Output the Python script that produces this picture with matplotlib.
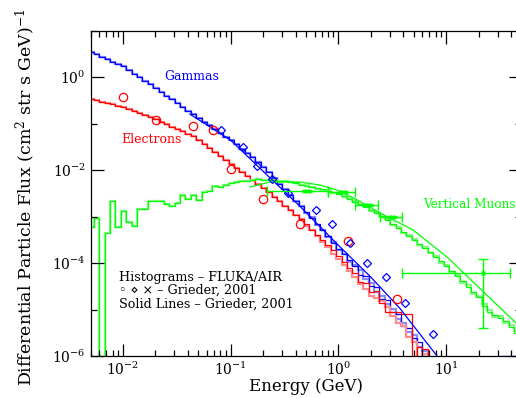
import numpy as np
import matplotlib.pyplot as plt
from matplotlib.ticker import FixedLocator, LogLocator, NullFormatter

plt.rcParams['font.family'] = ['DejaVu Serif', 'DejaVu Sans']
plt.rcParams['mathtext.fontset'] = 'dejavuserif'

# histogram binning: 20 log bins per decade
log_e_lo = -2.32
bin_width = 0.05

# FLUKA/AIR histograms, log10 of flux per bin
gamma_log = [0.535, 0.484, 0.434, 0.383, 0.333, 0.282, 0.230, 0.153, 0.073, -0.006,
             -0.084, -0.161, -0.241, -0.318, -0.400, -0.482, -0.561, -0.643, -0.725, -0.802,
             -0.882, -0.961, -1.041, -1.120, -1.200, -1.280, -1.359, -1.449, -1.542, -1.634,
             -1.727, -1.819, -1.927, -2.047, -2.170, -2.292, -2.413, -2.535, -2.658, -2.783,
             -2.91, -3.04, -3.17, -3.30, -3.43, -3.56, -3.69, -3.81, -3.94, -4.07,
             -4.25, -4.28, -4.50, -4.52, -4.78, -4.80, -5.05, -5.10, -5.35, -5.40,
             -5.62, -5.70, -5.95, -6.3, -7, -7, -7, -7, -7, -7,
             -7, -7, -7, -7, -7, -7, -5.99, -5.99, -5.99, -5.99]
gamma_log_run2 = [-2.93, -3.02, -3.19, -3.28, -3.45, -3.55, -3.72, -3.80, -3.98, -4.05,
                  -4.15, -4.35, -4.42, -4.62, -4.70, -4.88, -4.98, -5.20, -5.28, -5.48,
                  -5.55, -5.80, -5.90, -6.3]

electron_log = [-0.473, -0.503, -0.533, -0.561, -0.589, -0.619, -0.649, -0.692, -0.735, -0.781,
                -0.824, -0.867, -0.912, -0.963, -1.015, -1.067, -1.118, -1.170, -1.224, -1.277,
                -1.361, -1.447, -1.533, -1.619, -1.705, -1.789, -1.873, -1.959, -2.043, -2.127,
                -2.211, -2.295, -2.387, -2.480, -2.576, -2.673, -2.768, -2.865, -2.959, -3.060,
                -3.17, -3.28, -3.40, -3.51, -3.62, -3.73, -3.86, -3.98, -4.10, -4.22,
                -4.40, -4.42, -4.62, -4.60, -4.85, -5.05, -5.05, -5.05, -5.10, -5.10,
                -6.5, -5.80, -5.85, -6.5]
electron_log_run2 = [-3.20, -3.30, -3.43, -3.55, -3.66, -3.80, -3.92, -4.05, -4.18, -4.30,
                     -4.45, -4.55, -4.70, -4.75, -4.82, -4.95, -5.15, -5.30, -5.35, -5.60,
                     -5.70, -6.5, -5.95, -6.5]

muon_log = [-3.23, -3.04, -9.0, -3.35, -2.66, -3.23, -2.88, -3.12, -3.20, -2.84,
            -2.84, -2.66, -2.66, -2.66, -2.73, -2.77, -2.72, -2.54, -2.63, -2.54,
            -2.65, -2.47, -2.45, -2.34, -2.37, -2.32, -2.27, -2.26, -2.24, -2.24,
            -2.22, -2.19, -2.22, -2.21, -2.22, -2.24, -2.24, -2.26, -2.28, -2.32,
            -2.34, -2.37, -2.39, -2.41, -2.45, -2.47, -2.52, -2.56, -2.62, -2.69,
            -2.73, -2.80, -2.86, -2.93, -2.99, -3.08, -3.16, -3.25, -3.33, -3.42,
            -3.51, -3.59, -3.68, -3.76, -3.87, -3.96, -4.07, -4.17, -4.28, -4.39,
            -4.52, -4.62, -4.73, -4.93, -5.05, -5.12, -5.18, -5.25, -5.38, -5.50]
muon_log_run2 = [-2.32, -2.36, -2.40, -2.43, -2.44, -2.49, -2.50, -2.58, -2.60, -2.66,
                 -2.75, -2.78, -2.89, -2.90, -3.02, -3.05, -3.19, -3.22, -3.36, -3.40,
                 -3.48, -3.62, -3.65, -3.79, -3.84, -3.99, -4.04, -4.20, -4.25, -4.42,
                 -4.48, -4.66, -4.70, -4.88, -5.00, -5.16, -5.15, -5.30, -5.33, -5.46]
run2_start = 40

# Grieder 2001 data points
electron_pts_e = [0.01, 0.0202, 0.0447, 0.0685, 0.1007, 0.2, 0.44, 1.23, 3.5]
electron_pts_f = [0.37, 0.119, 0.088, 0.072, 0.0105, 0.00238, 0.00069, 0.000297, 1.68e-5]

gamma_pts_e = [0.081, 0.130, 0.175, 0.242, 0.340, 0.62, 0.87, 1.28, 1.84, 2.77, 4.15, 7.55]
gamma_pts_f = [0.072, 0.0313, 0.0122, 0.0064, 0.0032, 0.00138, 0.00069, 0.00027,
               1.0e-4, 5.0e-5, 1.38e-5, 2.97e-6]

muon_pts_e = [0.51, 1.10, 1.88, 3.15, 22.0]
muon_pts_f = [0.00353, 0.00336, 0.00177, 0.00098, 6.1e-5]
muon_e_lo = [0.217, 0.80, 1.43, 2.43, 3.89]
muon_e_hi = [0.80, 1.43, 2.33, 3.89, 39.0]
muon_f_lo = [0.00335, 0.00318, 0.00168, 0.00093, 4.0e-6]
muon_f_hi = [0.00372, 0.00354, 0.00187, 0.00104, 1.22e-4]

# Grieder 2001 solid lines (log10 E, log10 F)
gamma_line_loge = [-1.378, -1.0, -0.635, -0.357, 0.0, 0.3, 0.572, 0.916]
gamma_line_logf = [-0.80, -1.36, -2.17, -2.78, -3.62, -4.30, -4.98, -6.0]
muon_line_loge = [-0.821, -0.635, -0.357, -0.171, 0.015, 0.228, 0.386, 0.693, 1.008, 1.315, 1.649]
muon_line_logf = [-2.366, -2.258, -2.258, -2.323, -2.452, -2.710, -2.925, -3.290, -3.871, -4.55, -5.29]

BLUE, LBLUE = '#0000ff', '#8c8cff'
RED, LRED = '#ff0000', '#ff8c8c'
GREEN, LGREEN = '#00ff00', '#8cf58c'


def edges_for(n):
    return 10 ** (log_e_lo + bin_width * np.arange(n + 1))


fig = plt.figure(figsize=(5.16, 3.98), dpi=100)
ax = fig.add_axes([90.6 / 516, 42 / 398, 430.8 / 516, 325.5 / 398])
ax.set_xscale('log')
ax.set_yscale('log')

for vals, tail, col, lcol in [(gamma_log, gamma_log_run2, BLUE, LBLUE),
                              (electron_log, electron_log_run2, RED, LRED),
                              (muon_log, muon_log_run2, GREEN, LGREEN)]:
    e = edges_for(len(vals))
    run2 = list(vals[:run2_start]) + list(tail)
    ax.stairs(10 ** np.array(run2), e[:len(run2) + 1], baseline=None, color=lcol, lw=1.6)
    ax.stairs(10 ** np.array(vals), e, baseline=None, color=col, lw=0.9)

ax.plot(10 ** np.array(gamma_line_loge), 10 ** np.array(gamma_line_logf), color=BLUE, lw=0.9)
ax.plot(10 ** np.array(muon_line_loge), 10 ** np.array(muon_line_logf), color=GREEN, lw=0.9)

ax.plot(electron_pts_e, electron_pts_f, 'o', mfc='none', mec=RED, ms=6, mew=0.9)
ax.plot(gamma_pts_e, gamma_pts_f, 'D', mfc='none', mec=BLUE, ms=4, mew=0.9)

me = np.array(muon_pts_e)
mf = np.array(muon_pts_f)
xerr = [me - np.array(muon_e_lo), np.array(muon_e_hi) - me]
yerr = [mf - np.array(muon_f_lo), np.array(muon_f_hi) - mf]
ax.errorbar(me, mf, xerr=xerr, yerr=yerr, fmt='x', color=GREEN, ms=3, lw=1.0, capsize=3.5)

ax.set_xlim(0.005, 50)
ax.set_ylim(1e-6, 10)

ax.xaxis.set_major_locator(LogLocator(base=10, numticks=10))
ax.xaxis.set_minor_locator(LogLocator(base=10, subs=np.arange(2, 10), numticks=20))
ax.xaxis.set_minor_formatter(NullFormatter())
ax.yaxis.set_major_locator(FixedLocator([1e-6, 1e-4, 1e-2, 1e0]))
ax.yaxis.set_minor_locator(FixedLocator([1e-5, 1e-3, 1e-1, 1e1]))
ax.yaxis.set_minor_formatter(NullFormatter())
ax.tick_params(which='both', direction='in', top=True, right=True, labelsize=10, width=0.9)
ax.tick_params(which='major', length=9)
ax.tick_params(axis='x', which='minor', length=4)
ax.tick_params(axis='y', which='minor', length=4.5)
for s in ax.spines.values():
    s.set_linewidth(0.9)

ax.set_xlabel('Energy (GeV)', fontsize=12, va='center')
ax.xaxis.set_label_coords(0.5, -0.095)
ax.set_ylabel('Differential Particle Flux (cm$^2$ str s GeV)$^{-1}$', fontsize=12.5, va='center')
ax.yaxis.set_label_coords(-0.152, 0.488)

ax.text(0.0433, 1.05, 'Gammas', color=BLUE, fontsize=9, ha='center', va='center')
ax.text(0.0184, 0.0442, 'Electrons', color=RED, fontsize=9, ha='center', va='center')
ax.text(6.1, 1.77e-3, 'Vertical Muons', color=GREEN, fontsize=8.7, ha='left', va='center')
ax.text(0.0092, 2.55e-5,
        'Histograms \u2013 FLUKA/AIR\n\u25e6 \u22c4 \u00d7 \u2013 Grieder, 2001\nSolid Lines \u2013 Grieder, 2001',
        fontsize=9.2, ha='left', va='center', linespacing=1.05)

fig.savefig('out.png', dpi=100)
